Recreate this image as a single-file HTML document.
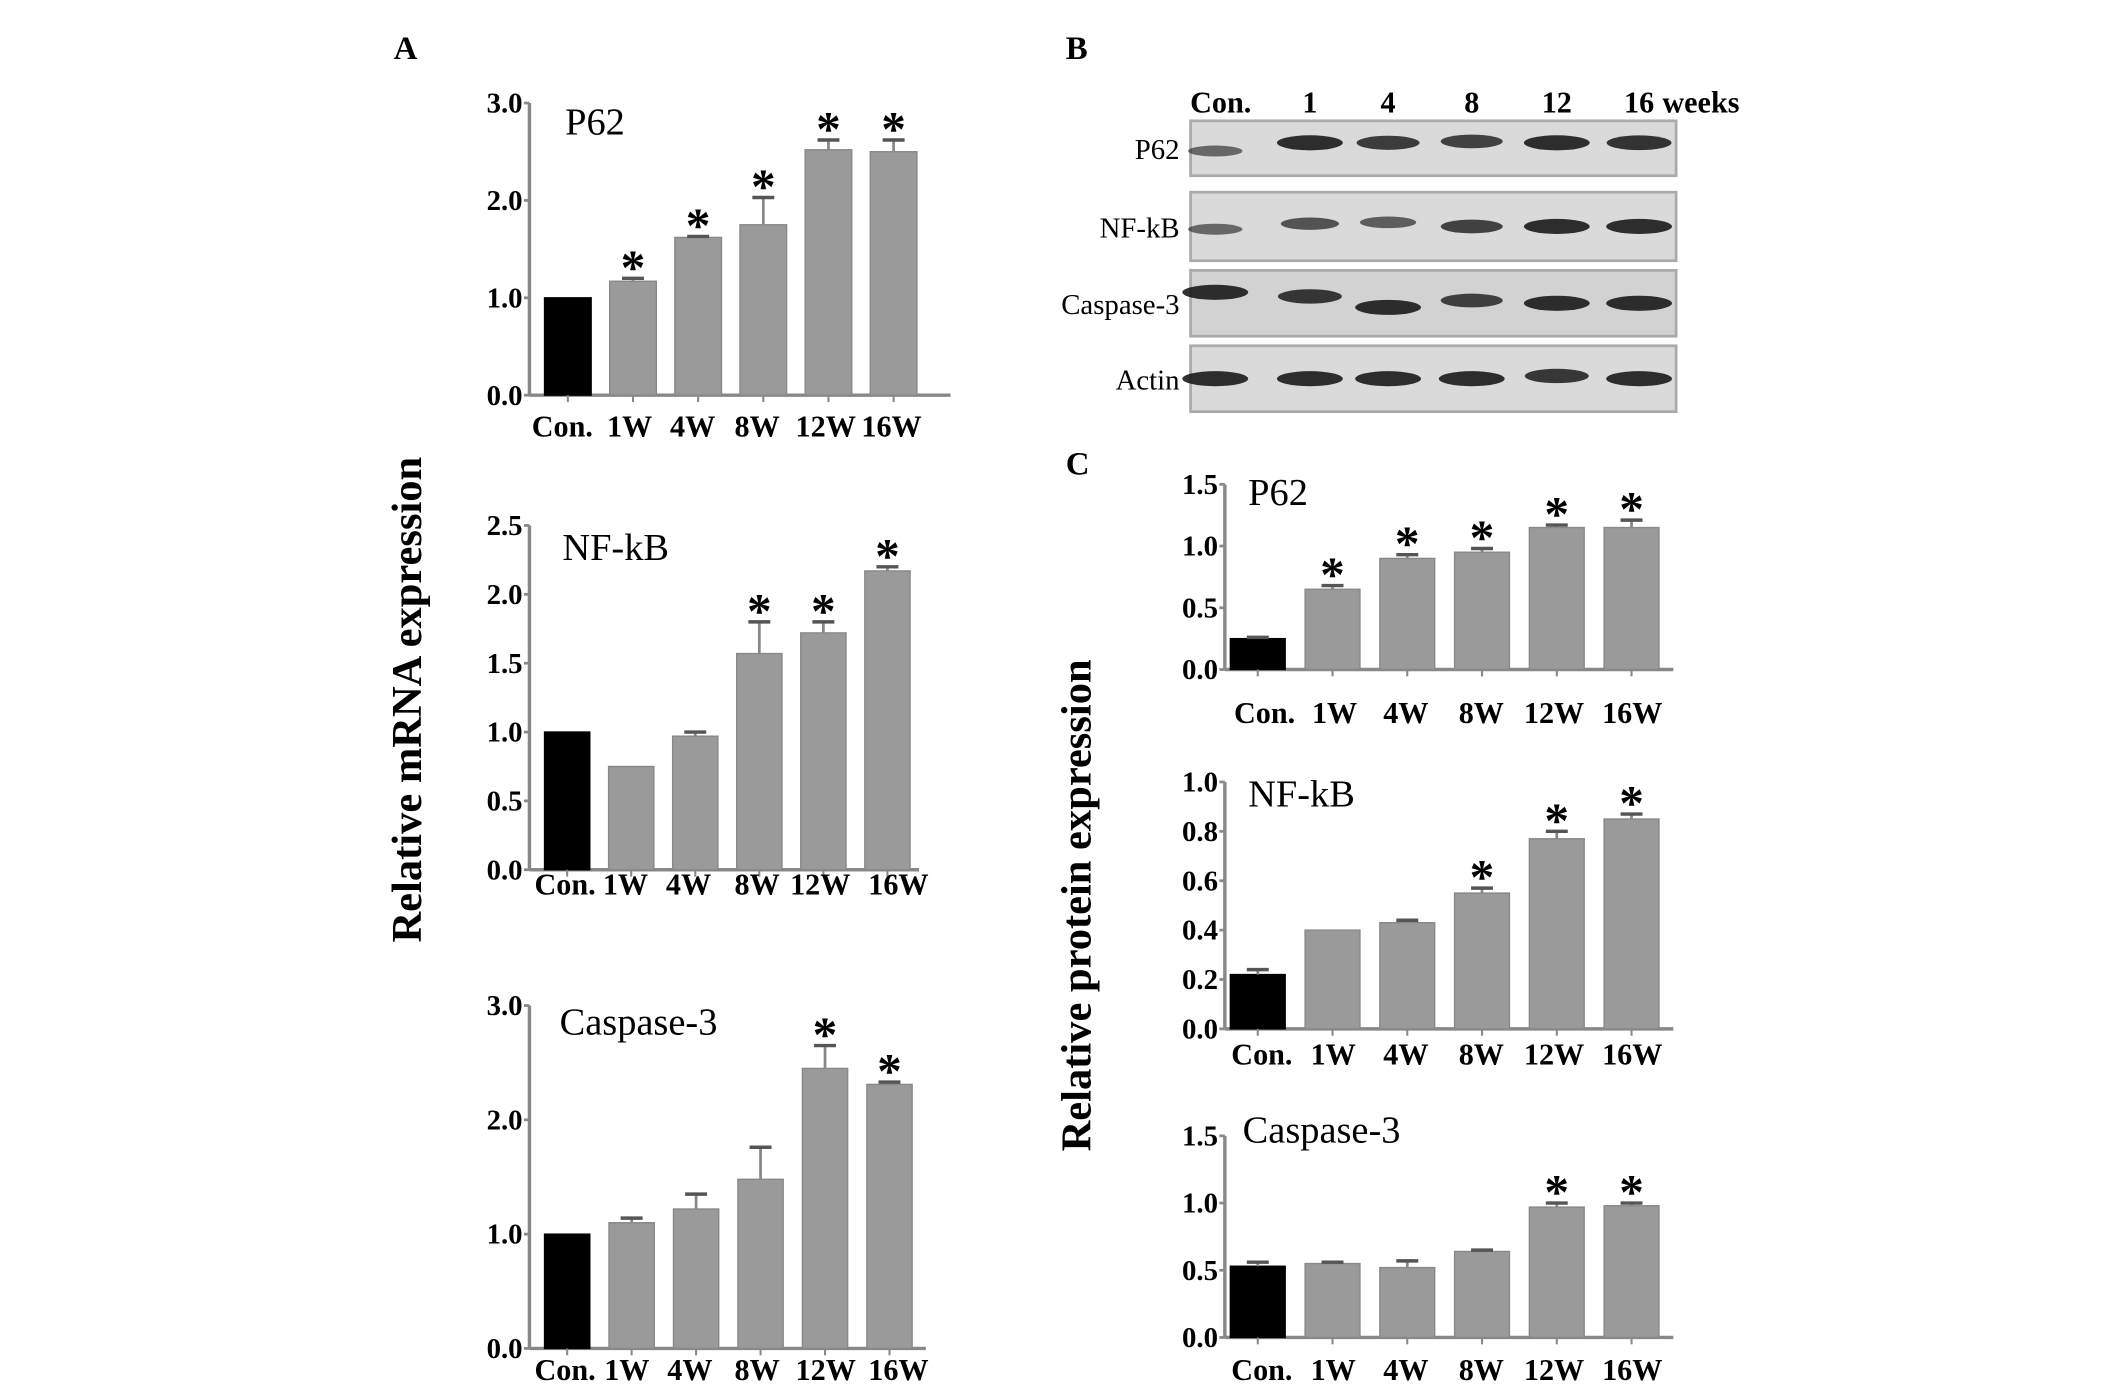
<!DOCTYPE html>
<html><head><meta charset="utf-8"><style>
html,body{margin:0;padding:0;background:#fff;}
svg{display:block;}
text{font-family:"Liberation Serif",serif;}
</style></head><body>
<svg id="fig" width="2126" height="1387" viewBox="0 0 1550 1011" xmlns="http://www.w3.org/2000/svg">
<rect width="1550" height="1011" fill="#fff"/>
<text x="287" y="43" font-size="24" font-weight="bold">A</text>
<text x="777" y="43" font-size="24" font-weight="bold">B</text>
<text x="777" y="346" font-size="24" font-weight="bold">C</text>
<text transform="translate(307,510) rotate(-90)" text-anchor="middle" font-size="31" font-weight="bold">Relative mRNA expression</text>
<text transform="translate(795,660) rotate(-90)" text-anchor="middle" font-size="31" font-weight="bold">Relative protein expression</text>
<g id="blot"></g>
<g id="charts"></g>
</svg>
<script>
const categories = ["Con.","1W","4W","8W","12W","16W"];
// Panel A (mRNA)
const a1Values = [1.0,1.17,1.62,1.75,2.52,2.50];
const a1Errors = [0,0.03,0.01,0.28,0.10,0.12];
const a1Sig = [0,1,1,1,1,1];
const a1Ticks = ["0.0","1.0","2.0","3.0"];
const a2Values = [1.0,0.75,0.97,1.57,1.72,2.17];
const a2Errors = [0,0,0.03,0.23,0.08,0.03];
const a2Sig = [0,0,0,1,1,1];
const a2Ticks = ["0.0","0.5","1.0","1.5","2.0","2.5"];
const a3Values = [1.0,1.10,1.22,1.48,2.45,2.31];
const a3Errors = [0,0.04,0.13,0.28,0.20,0.02];
const a3Sig = [0,0,0,0,1,1];
const a3Ticks = ["0.0","1.0","2.0","3.0"];
// Panel C (protein)
const c1Values = [0.25,0.65,0.90,0.95,1.15,1.15];
const c1Errors = [0.01,0.03,0.03,0.03,0.02,0.06];
const c1Sig = [0,1,1,1,1,1];
const c1Ticks = ["0.0","0.5","1.0","1.5"];
const c2Values = [0.22,0.40,0.43,0.55,0.77,0.85];
const c2Errors = [0.02,0,0.01,0.02,0.03,0.02];
const c2Sig = [0,0,0,1,1,1];
const c2Ticks = ["0.0","0.2","0.4","0.6","0.8","1.0"];
const c3Values = [0.53,0.55,0.52,0.64,0.97,0.98];
const c3Errors = [0.03,0.01,0.05,0.01,0.03,0.02];
const c3Sig = [0,0,0,0,1,1];
const c3Ticks = ["0.0","0.5","1.0","1.5"];
const blotRows = ["P62","NF-kB","Caspase-3","Actin"];
const blotLanes = ["Con.","1","4","8","12","16"];

const NS="http://www.w3.org/2000/svg";
function mk(tag, attrs, parent){const e=document.createElementNS(NS,tag);for(const k in attrs)e.setAttribute(k,attrs[k]);parent.appendChild(e);return e;}

const layouts = [
 {id:"a1",title:"P62",vals:a1Values,errs:a1Errors,sig:a1Sig,ticks:a1Ticks,max:3,ax:386,top:75,bot:288,x0:397,step:47.5,bw:34,right:693,tx:412,ty:88,lx:[410,459,505,552,602,650],ly:318},
 {id:"a2",title:"NF-kB",vals:a2Values,errs:a2Errors,sig:a2Sig,ticks:a2Ticks,max:2.5,ax:386,top:383,bot:634,x0:397,step:46.7,bw:33,right:670,tx:410,ty:398,lx:[412,456,502,552,598,655],ly:652},
 {id:"a3",title:"Caspase-3",vals:a3Values,errs:a3Errors,sig:a3Sig,ticks:a3Ticks,max:3,ax:386,top:733,bot:983,x0:397,step:47,bw:33,right:675,tx:408,ty:744,lx:[412,457,503,552,602,655],ly:1006},
 {id:"c1",title:"P62",vals:c1Values,errs:c1Errors,sig:c1Sig,ticks:c1Ticks,max:1.5,ax:893,top:353,bot:488,x0:897,step:54.5,bw:40,right:1220,tx:910,ty:358,lx:[922,973,1025,1080,1133,1190],ly:527},
 {id:"c2",title:"NF-kB",vals:c2Values,errs:c2Errors,sig:c2Sig,ticks:c2Ticks,max:1.0,ax:893,top:570,bot:750,x0:897,step:54.5,bw:40,right:1220,tx:910,ty:578,lx:[920,972,1025,1080,1133,1190],ly:776},
 {id:"c3",title:"Caspase-3",vals:c3Values,errs:c3Errors,sig:c3Sig,ticks:c3Ticks,max:1.5,ax:893,top:828,bot:975,x0:897,step:54.5,bw:40,right:1220,tx:906,ty:823,lx:[920,972,1025,1080,1133,1190],ly:1006}
];

const root=document.getElementById("charts");
layouts.forEach(L=>{
  const g=mk("g",{},root);
  
  
  const y=v=>L.bot-(v/L.max)*(L.bot-L.top);
  const ya=mk("line",{x1:L.ax,y1:L.top,x2:L.ax,y2:L.bot,stroke:"#888","stroke-width":2.5},g);
  
  
  const xa=mk("line",{x1:L.ax,y1:L.bot,x2:L.right,y2:L.bot,stroke:"#888","stroke-width":2.5},g);
  
  
  L.ticks.forEach(t=>{
    const v=parseFloat(t), ty=y(v);
    mk("line",{x1:L.ax-4,y1:ty,x2:L.ax,y2:ty,stroke:"#888","stroke-width":2},g);
    const tt=mk("text",{x:L.ax-5,y:ty+7,"text-anchor":"end","font-size":21,"font-weight":"bold"},g);
    tt.textContent=t;
    
    
  });
  const title=mk("text",{x:L.tx,y:L.ty+10,"font-size":28},g);
  title.textContent=L.title;
  
  
  L.vals.forEach((v,i)=>{
    const bx=L.x0+i*L.step, top=y(v), cx=bx+L.bw/2;
    const b=mk("rect",{x:bx,y:top,width:L.bw,height:L.bot-top,fill:i===0?"#000":"#9a9a9a",stroke:i===0?"#000":"#888","stroke-width":1},g);
    
    
    const e=L.errs[i];
    if(e>0){
      const et=y(v+e);
      mk("line",{x1:cx,y1:top,x2:cx,y2:et,stroke:"#888","stroke-width":2},g);
      const cap=mk("line",{x1:cx-8,y1:et,x2:cx+8,y2:et,stroke:"#555","stroke-width":2.5},g);
      
      
    }
    if(L.sig[i]){
      const st=mk("text",{x:cx,y:y(v+e)+4,"text-anchor":"middle","font-size":36,"font-weight":"bold","font-family":"Liberation Sans, sans-serif"},g);
      st.textContent="*";
      
      
    }
    mk("line",{x1:cx,y1:L.bot,x2:cx,y2:L.bot+5,stroke:"#888","stroke-width":1.5},g);
    const lt=mk("text",{x:L.lx[i],y:L.ly,"text-anchor":"middle","font-size":22,"font-weight":"bold"},g);
    lt.textContent=categories[i];
    
    
  });
});

// Western blot
const blot=document.getElementById("blot");
const laneX=[890,955,1012,1073,1135,1195];
const rowBoxes=[[88,128],[140,190],[197,245],[252,300]];
blotLanes.forEach((l,i)=>{
  const t=mk("text",{x:laneX[i],y:82,"text-anchor":"middle","font-size":22,"font-weight":"bold"},blot);
  t.textContent=l;
  
  
});
const wk=mk("text",{x:1212,y:82,"font-size":22,"font-weight":"bold"},blot);
wk.textContent="weeks";


const bandW=[[0.4,1,0.85,0.8,1,0.95],[0.4,0.6,0.5,0.8,1,1],[1,0.9,1,0.8,1,1],[1,1,1,1,0.9,1]];
const bandOff=[[2,-4,-4,-5,-4,-4],[2,-2,-3,0,0,0],[-8,-5,3,-2,0,0],[0,0,0,0,-2,0]];
blotRows.forEach((r,ri)=>{
  const [y0,y1]=rowBoxes[ri];
  const box=mk("rect",{x:868,y:y0,width:354,height:y1-y0,fill:ri===2?"#d2d2d2":"#dadada",stroke:"#aaa","stroke-width":2},blot);
  
  
  const lab=mk("text",{x:860,y:(y0+y1)/2+8,"text-anchor":"end","font-size":21},blot);
  lab.textContent=r;
  
  
  laneX.forEach((lx,li)=>{
    const w=bandW[ri][li];
    const band=mk("ellipse",{cx:lx+(li===0?-4:0),cy:(y0+y1)/2+bandOff[ri][li],rx:17+7*w,ry:3+2.5*w,fill:"#1a1a1a",opacity:0.4+0.5*w},blot);
    
    
  });
});
</script>
</body></html>
